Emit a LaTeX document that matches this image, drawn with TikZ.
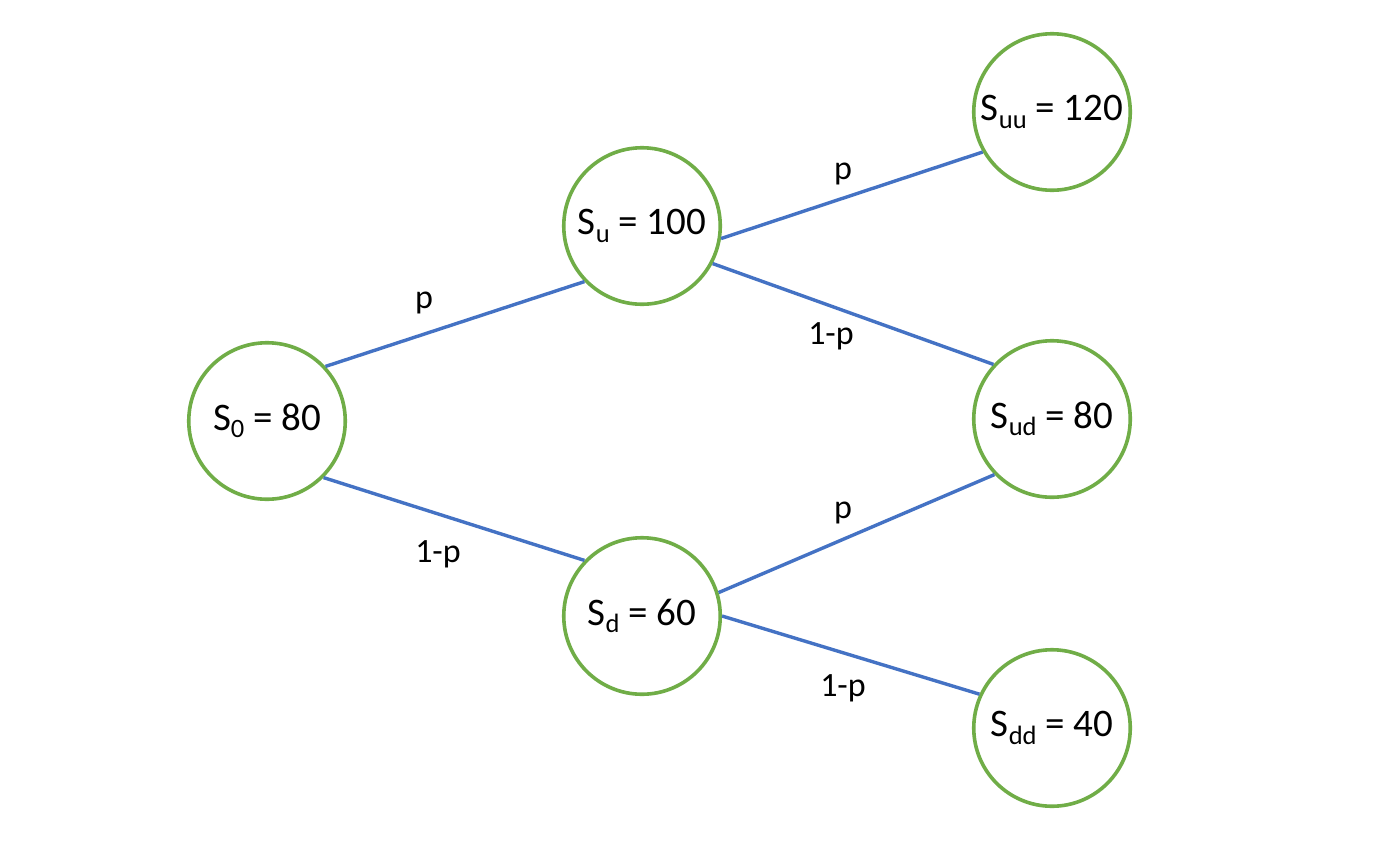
\documentclass[tikz,border=0pt]{standalone}
\usepackage{fontspec}
\setmainfont{Carlito}
\definecolor{cgreen}{HTML}{70AD47}
\definecolor{cblue}{HTML}{4472C4}
\newcommand{\mysub}[1]{\raisebox{-0.19em}{\fontsize{26.5}{27}\selectfont #1}}
\begin{document}
\begin{tikzpicture}[x=1pt,y=-1pt,
  state/.style={circle,draw=cgreen,line width=3.6pt,minimum size=156.5pt,inner sep=0pt,
    font=\fontsize{39}{41}\selectfont},
  edge/.style={draw=cblue,line width=3.4pt},
  prob/.style={font=\fontsize{34}{36}\selectfont,inner sep=0pt}]
\path[use as bounding box,fill=white] (0,0) rectangle (1400,846);
\node[state] (s0)  at (267,421)  {S\mysub{0} = 80};
\node[state] (su)  at (642,226)  {S\mysub{u} = 100};
\node[state] (sd)  at (642,616)  {S\mysub{d} = 60};
\node[state] (suu) at (1052,112) {S\mysub{uu} = 120};
\node[state] (sud) at (1052,419) {S\mysub{ud} = 80};
\node[state] (sdd) at (1052,728) {S\mysub{dd} = 40};
\draw[edge] (s0.43) -- (su.224.5);
\draw[edge] (s0.315.5) -- (sd.136.5);
\draw[edge] (su.351.4) -- (suu.210);
\draw[edge] (su.332) -- (sud.137);
\draw[edge] (sd.17.7) -- (sud.224.5);
\draw[edge] (sd.0) -- (sdd.155);
\node[prob] (l1) at (424,303) {p};
\node[prob] (l2) at (438,554) {1-p};
\node[prob] (l3) at (843,174) {p};
\node[prob] (l4) at (831,336) {1-p};
\node[prob] (l5) at (843,513) {p};
\node[prob] (l6) at (843,688) {1-p};
\end{tikzpicture}
\end{document}
